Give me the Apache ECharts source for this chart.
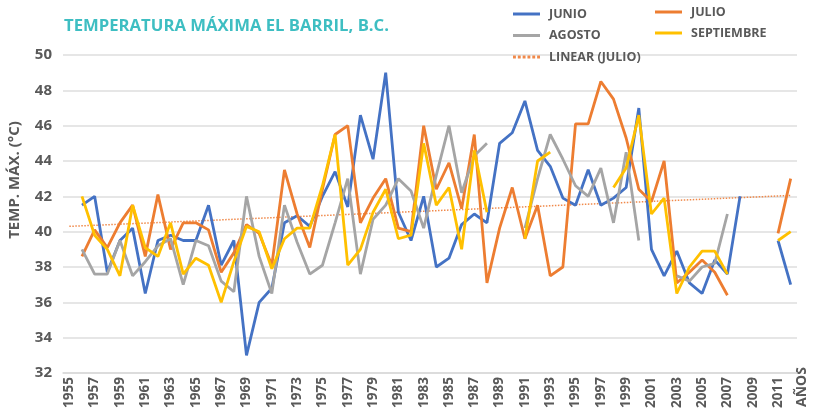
<!DOCTYPE html>
<html>
<head>
<meta charset="utf-8">
<script src="https://cdn.jsdelivr.net/npm/echarts@6/dist/echarts.min.js"></script>
<style>html,body{margin:0;padding:0;background:#fff}#c{width:817px;height:415px}</style>
</head>
<body>
<div id="c"></div>
<script>
const years = [];
for (let y = 1955; y <= 2012; y++) years.push(String(y));

const junio = [null,41.5,42,37.7,39.5,40.2,36.5,39.5,39.8,39.5,39.5,41.5,38.1,39.5,33,36,36.8,40.5,40.9,
  40.3,42,43.4,41.4,46.6,44.1,49,41.1,39.5,42,38,38.5,40.4,41,40.5,45,45.6,47.4,44.6,43.7,
  41.9,41.5,43.5,41.5,41.9,42.5,47,39,37.5,38.9,37.1,36.5,38.4,37.6,42,null,null,39.5,37];
const julio = [null,38.6,40.1,39.1,40.5,41.5,38.6,42.1,39,40.5,40.5,40.1,37.7,38.8,40.4,39.9,38.1,43.5,41,
  39.1,42.4,45.5,46,40.5,41.9,43,40.2,40,46,42.4,43.9,41.3,45.5,37.1,40.2,42.5,39.6,41.5,37.5,
  38,46.1,46.1,48.5,47.5,45.3,42.4,41.7,44,37.1,37.7,38.4,37.7,36.4,null,null,null,39.9,43];
const agosto = [null,39,37.6,37.6,39.5,37.5,38.3,39.2,39.6,37,39.5,39.2,37.2,36.6,42,38.6,36.5,41.5,39.4,
  37.6,38.1,40.5,43,37.6,40.7,41.5,43,42.3,40.2,43.2,46,42.2,44.3,45,null,null,40.2,43,45.5,
  44.1,42.6,42,43.6,40.5,44.5,39.5,null,null,37.5,37.2,38,38.2,41,null,null,null,null,null];
const septiembre = [null,42,39.8,39,37.5,41.5,39.1,38.6,40.5,37.6,38.5,38.1,36,38.3,40.3,40,37.9,39.6,40.2,
  40.2,42.6,45.5,38.1,39,41.1,42.4,39.6,39.8,45,41.5,42.5,39,44.6,41.1,null,null,39.6,44,44.5,
  null,null,null,null,42.5,43.6,46.6,41,41.9,36.5,38,38.9,38.9,37.6,null,null,null,39.5,40];
// Trendline "Linear (Julio)" endpoints
const trendJulio = years.map((y, i) => i === 0 ? 40.3 : (i === years.length - 1 ? 42.05 : null));

const yTicks = { min: 32, max: 50, step: 2 };

const txt = '#595959';
const ff = '"Open Sans", sans-serif';
const chart = echarts.init(document.getElementById('c'), null, { renderer: 'canvas' });

function line(name, data, color, z) {
  return { name, type: 'line', data, symbol: 'none', z,
    lineStyle: { color, width: 2.8 }, itemStyle: { color }, connectNulls: false, animation: false };
}

const solidIcon = 'rect';
const dottedIcon = 'path://M0,0h3v3h-3z M5,0h3v3h-3z M10,0h3v3h-3z M15,0h3v3h-3z M20,0h3v3h-3z M25,0h3v3h-3z';
const legendText = { color: txt, fontSize: 12.5, fontWeight: 'bold', fontFamily: ff, lineHeight: 14, padding: [0,0,0,4] };

chart.setOption({
  backgroundColor: '#fff',
  animation: false,
  title: { text: 'TEMPERATURA MÁXIMA EL BARRIL, B.C.', left: 64, top: 18, padding: 0,
    textStyle: { color: '#3EBEC2', fontSize: 16.7, fontWeight: 'bold', fontFamily: ff } },
  legend: [
    { data: [{ name: 'JUNIO', icon: solidIcon }, { name: 'AGOSTO', icon: solidIcon }, { name: 'LINEAR (JULIO)', icon: dottedIcon }],
      orient: 'vertical', left: 513, top: 7, padding: 0,
      itemWidth: 27, itemHeight: 3, itemGap: 7.5, textStyle: legendText },
    { data: [{ name: 'JULIO', icon: solidIcon }, { name: 'SEPTIEMBRE', icon: solidIcon }],
      orient: 'vertical', left: 655, top: 5, padding: 0,
      itemWidth: 27, itemHeight: 3, itemGap: 7, textStyle: legendText }
  ],
  grid: { left: 63, right: 20, top: 55, bottom: 42, containLabel: false },
  xAxis: { type: 'category', data: years, boundaryGap: true,
    axisLine: { show: true, lineStyle: { color: '#D9D9D9', width: 1.5 } },
    axisTick: { show: false },
    axisLabel: { interval: 1, rotate: 90, margin: 4, color: txt, fontSize: 13.5, fontWeight: 'bold', fontFamily: ff } },
  yAxis: { type: 'value', min: yTicks.min, max: yTicks.max, interval: yTicks.step,
    axisLine: { show: false }, axisTick: { show: false },
    splitLine: { lineStyle: { color: '#DEDEDE', width: 1.5 } },
    axisLabel: { margin: 11, color: txt, fontSize: 15, fontWeight: 'bold', fontFamily: ff } },
  graphic: [
    { type: 'text', x: 15, y: 180, rotation: Math.PI / 2,
      style: { text: 'TEMP. MÁX. (°C)', fill: txt, font: 'bold 15px "Open Sans", sans-serif', align: 'center', verticalAlign: 'middle' } },
    { type: 'text', x: 802, y: 387, rotation: Math.PI / 2,
      style: { text: 'AÑOS', fill: txt, font: 'bold 14px "Open Sans", sans-serif', align: 'center', verticalAlign: 'middle' } }
  ],
  series: [
    { name: 'LINEAR (JULIO)', type: 'line', data: trendJulio, connectNulls: true, symbol: 'none', z: 1,
      lineStyle: { color: '#F0894A', width: 1.5, type: 'dotted' }, itemStyle: { color: '#F0894A' } },
    line('JUNIO', junio, '#4472C4', 2),
    line('JULIO', julio, '#ED7D31', 3),
    line('AGOSTO', agosto, '#A5A5A5', 4),
    line('SEPTIEMBRE', septiembre, '#FFC000', 5)
  ]
});
</script>
</body>
</html>
